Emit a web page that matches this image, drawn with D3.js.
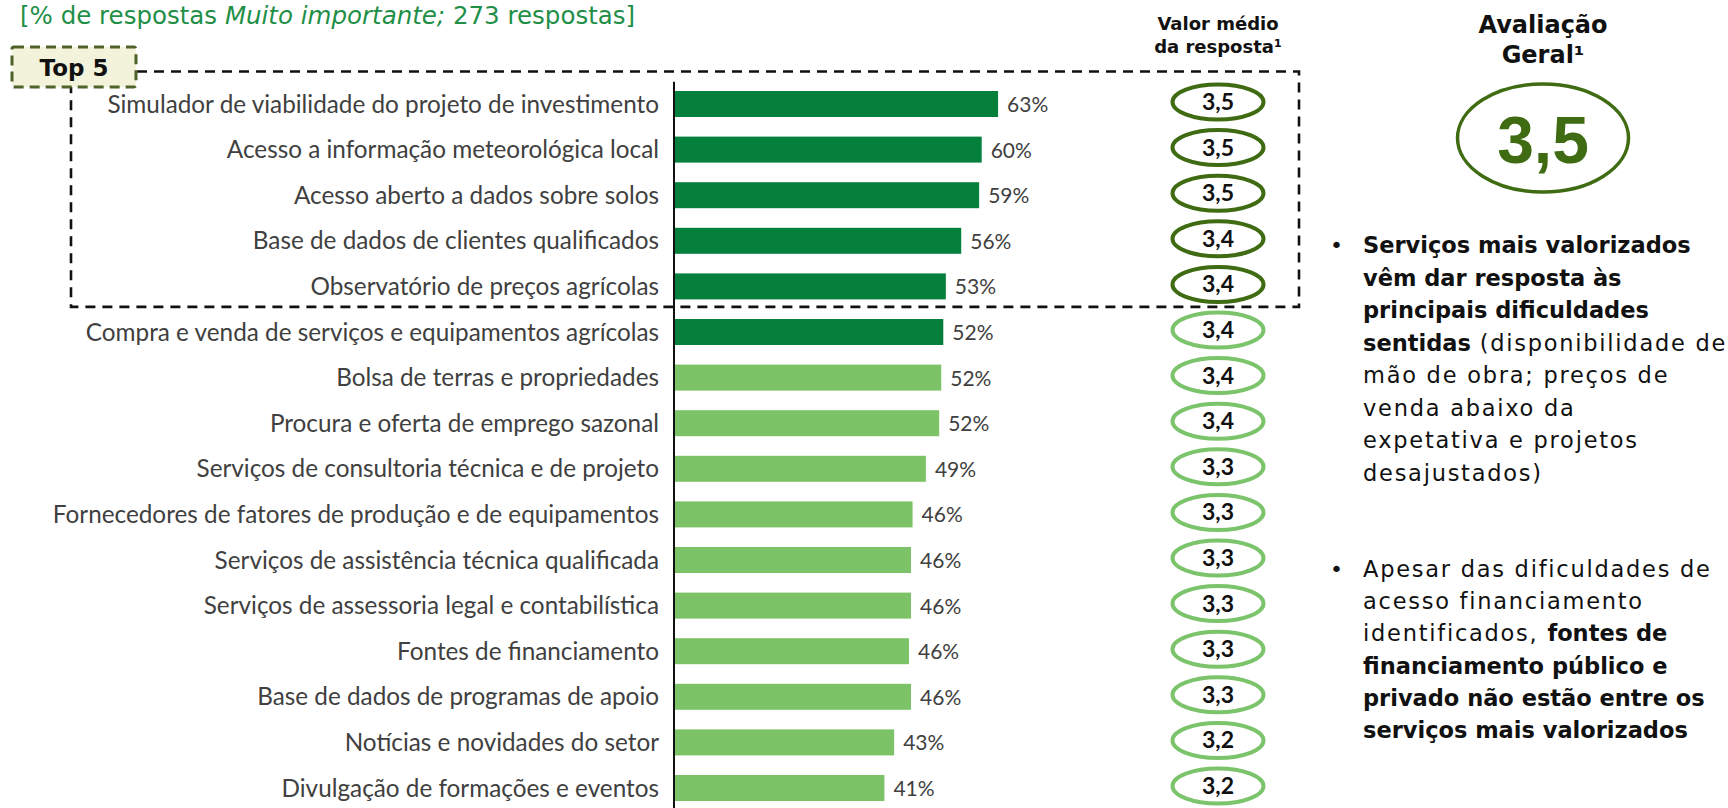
<!DOCTYPE html>
<html>
<head>
<meta charset="utf-8">
<script src="https://cdn.jsdelivr.net/npm/d3@7"></script>
<style>
  body { margin: 0; background: #fff; overflow: hidden; }
  svg { display: block; }
</style>
</head>
<body>
<div id="container"></div>
<script>
const categories = [
  'Simulador de viabilidade do projeto de investimento',
  'Acesso a informação meteorológica local',
  'Acesso aberto a dados sobre solos',
  'Base de dados de clientes qualificados',
  'Observatório de preços agrícolas',
  'Compra e venda de serviços e equipamentos agrícolas',
  'Bolsa de terras e propriedades',
  'Procura e oferta de emprego sazonal',
  'Serviços de consultoria técnica e de projeto',
  'Fornecedores de fatores de produção e de equipamentos',
  'Serviços de assistência técnica qualificada',
  'Serviços de assessoria legal e contabilística',
  'Fontes de financiamento',
  'Base de dados de programas de apoio',
  'Notícias e novidades do setor',
  'Divulgação de formações e eventos'
];
const pctValues = [63.1, 59.9, 59.4, 55.9, 52.9, 52.4, 52.0, 51.6, 49.0, 46.4, 46.1, 46.1, 45.7, 46.1, 42.8, 40.9];
const meanValues = [3.5, 3.5, 3.5, 3.4, 3.4, 3.4, 3.4, 3.4, 3.3, 3.3, 3.3, 3.3, 3.3, 3.3, 3.2, 3.2];
const overallValue = 3.5;
const topN = 5;      // items inside the Top 5 box / dark ellipses
const darkBars = 6;  // bars drawn in dark green

const titleParts = [
  ['[% de respostas ', false],
  ['Muito importante;', true],
  [' 273 respostas]', false]
];
const bullet1 = [
  [['Serviços mais valorizados', true]],
  [['vêm dar resposta às', true]],
  [['principais dificuldades', true]],
  [['sentidas', true], [' (disponibilidade de', false]],
  [['mão de obra; preços de', false]],
  [['venda abaixo da', false]],
  [['expetativa e projetos', false]],
  [['desajustados)', false]]
];
const bullet2 = [
  [['Apesar das dificuldades de', false]],
  [['acesso financiamento', false]],
  [['identificados, ', false], ['fontes de', true]],
  [['financiamento público e', true]],
  [['privado não estão entre os', true]],
  [['serviços mais valorizados', true]]
];

const W = 1728, H = 808;
const darkGreen = '#05803c', lightGreen = '#7bc366';
const ringDark = '#3f6b12', ringLight = '#7cc46b';
const labelFont = 'Lato, "DejaVu Sans", sans-serif';
const sideFont = '"DejaVu Sans", sans-serif';

const fmt = d3.formatLocale({decimal: ',', thousands: '.', grouping: [3], currency: ['', '€']}).format('.1f');

const svg = d3.select('#container')
  .append('svg')
  .attr('width', W)
  .attr('height', H);

const x = d3.scaleLinear()
  .domain([0, 100])
  .range([675, 675 + 512]);

const y = d3.scaleBand()
  .domain(categories)
  .range([81.2, 81.2 + 16 * 45.6])
  .paddingInner(0.43)
  .paddingOuter(0.215);

const data = categories.map((c, i) => ({name: c, pct: pctValues[i], mean: meanValues[i], i: i}));

// title at the top of the slide
const title = svg.append('text')
  .attr('x', 20)
  .attr('y', 24)
  .style('font-family', sideFont)
  .style('font-size', '24.5px')
  .style('fill', '#1f8f47');
titleParts.forEach(p => {
  title.append('tspan').style('font-style', p[1] ? 'italic' : 'normal').text(p[0]);
});

// Top 5 dashed frame
const frameTop = y(categories[0]) - 19.5;
const frameBottom = y(categories[topN - 1]) + y.bandwidth() + 7.5;
svg.append('path')
  .attr('d', 'M137,' + frameTop + 'H1299V' + frameBottom + 'H71V87')
  .attr('fill', 'none')
  .attr('stroke', '#111')
  .attr('stroke-width', 2.6)
  .attr('stroke-dasharray', '10,7');

svg.append('rect')
  .attr('x', 12)
  .attr('y', 47)
  .attr('width', 124)
  .attr('height', 40)
  .attr('rx', 2)
  .attr('fill', '#f2f3da')
  .attr('stroke', '#4f6228')
  .attr('stroke-width', 3)
  .attr('stroke-dasharray', '10,6');

svg.append('text')
  .attr('x', 74)
  .attr('y', 76)
  .attr('text-anchor', 'middle')
  .style('font-family', sideFont)
  .style('font-weight', 'bold')
  .style('font-size', '23px')
  .style('fill', '#111')
  .text('Top 5');

// bars
svg.selectAll('.bar')
  .data(data)
  .enter()
  .append('rect')
  .attr('class', 'bar')
  .attr('x', x(0))
  .attr('y', d => y(d.name))
  .attr('width', d => x(d.pct) - x(0))
  .attr('height', y.bandwidth())
  .attr('fill', d => d.i < darkBars ? darkGreen : lightGreen);

// category axis
const yAxis = d3.axisLeft(y).tickSize(0).tickSizeOuter(0).tickFormat('');
svg.append('g')
  .attr('transform', 'translate(673.5,0)')
  .call(yAxis)
  .call(g => g.select('.domain').attr('stroke', '#111').attr('stroke-width', 2));

svg.selectAll('.cat-label')
  .data(data)
  .enter()
  .append('text')
  .attr('class', 'cat-label')
  .attr('x', 659)
  .attr('y', d => y(d.name) + y.bandwidth() / 2 + 8.5)
  .attr('text-anchor', 'end')
  .style('font-family', labelFont)
  .style('font-size', '24.3px')
  .style('fill', '#404040')
  .text(d => d.name);

svg.selectAll('.pct-label')
  .data(data)
  .enter()
  .append('text')
  .attr('class', 'pct-label')
  .attr('x', d => x(d.pct) + 9)
  .attr('y', d => y(d.name) + y.bandwidth() / 2 + 8)
  .style('font-family', labelFont)
  .style('font-size', '21px')
  .style('fill', '#404040')
  .text(d => Math.round(d.pct) + '%');

// mean value column
const headX = 1218;
[['Valor médio', 30], ['da resposta¹', 53]].forEach(h => {
  svg.append('text')
    .attr('x', headX)
    .attr('y', h[1])
    .attr('text-anchor', 'middle')
    .style('font-family', sideFont)
    .style('font-weight', 'bold')
    .style('font-size', '18px')
    .style('fill', '#111')
    .text(h[0]);
});

const rings = svg.selectAll('.ring')
  .data(data)
  .enter()
  .append('g')
  .attr('class', 'ring')
  .attr('transform', d => 'translate(' + headX + ',' + (y(d.name) + y.bandwidth() / 2 - 2) + ')');

rings.append('ellipse')
  .attr('rx', 45.5)
  .attr('ry', 17.5)
  .attr('fill', '#fff')
  .attr('stroke', d => d.i < topN ? ringDark : ringLight)
  .attr('stroke-width', 4);

rings.append('text')
  .attr('y', 8)
  .attr('text-anchor', 'middle')
  .style('font-family', labelFont)
  .style('font-weight', 'bold')
  .style('font-size', '23px')
  .style('fill', '#111')
  .text(d => fmt(d.mean));

// overall rating
const ovX = 1543;
[['Avaliação', 33], ['Geral¹', 63]].forEach(h => {
  svg.append('text')
    .attr('x', ovX)
    .attr('y', h[1])
    .attr('text-anchor', 'middle')
    .style('font-family', sideFont)
    .style('font-weight', 'bold')
    .style('font-size', '24px')
    .style('fill', '#111')
    .text(h[0]);
});

svg.append('ellipse')
  .attr('cx', ovX)
  .attr('cy', 138)
  .attr('rx', 85.5)
  .attr('ry', 54)
  .attr('fill', 'none')
  .attr('stroke', ringDark)
  .attr('stroke-width', 3.5);

svg.append('text')
  .attr('x', ovX)
  .attr('y', 163)
  .attr('text-anchor', 'middle')
  .style('font-family', '"Liberation Sans", Arial, sans-serif')
  .style('font-weight', 'bold')
  .style('font-size', '66px')
  .style('fill', ringDark)
  .text(fmt(overallValue));

// commentary bullets
function drawBullet(lines, y0, step) {
  svg.append('text')
    .attr('x', 1330)
    .attr('y', y0)
    .style('font-family', sideFont)
    .style('font-size', '22px')
    .style('fill', '#111')
    .text('•');
  lines.forEach((line, k) => {
    const t = svg.append('text')
      .attr('x', 1363)
      .attr('y', y0 + k * step)
      .style('font-family', sideFont)
      .style('font-size', '22.5px')
      .style('fill', '#111');
    line.forEach(p => {
      t.append('tspan')
        .style('font-weight', p[1] ? 'bold' : 'normal')
        .style('letter-spacing', p[1] ? '0px' : '1.75px')
        .text(p[0]);
    });
  });
}
drawBullet(bullet1, 253, 32.5);
drawBullet(bullet2, 577, 32.2);
</script>
</body>
</html>
